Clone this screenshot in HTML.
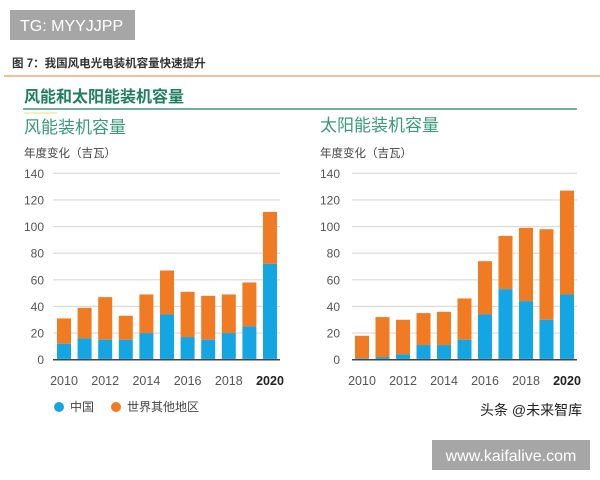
<!DOCTYPE html>
<html><head><meta charset="utf-8"><style>
body{margin:0;background:#fff;}
svg{display:block;font-family:"Liberation Sans","Noto Sans CJK SC",sans-serif;}
</style></head><body>
<svg width="600" height="480" viewBox="0 0 600 480" xmlns="http://www.w3.org/2000/svg">
<rect x="10" y="10" width="125" height="30" fill="#a6a6a6"/>
<text x="20" y="31" font-size="16" fill="#fff">TG: MYYJJPP</text>
<text x="12" y="67" font-size="11.5" font-weight="bold" fill="#333">图 7：我国风电光电装机容量快速提升</text>
<line x1="4" y1="76" x2="600" y2="76" stroke="#e89a5a" stroke-width="1.2"/>
<text x="24" y="102" font-size="16" font-weight="bold" fill="#1d7f5c">风能和太阳能装机容量</text>
<line x1="23" y1="109" x2="577" y2="109" stroke="#1d7f5c" stroke-width="1.3"/>
<line x1="24" y1="113" x2="57" y2="113" stroke="#e6e67a" stroke-width="1"/>
<text x="24" y="133" font-size="17" fill="#3a9a78">风能装机容量</text>
<text x="320" y="131" font-size="17" fill="#3a9a78">太阳能装机容量</text>
<text x="24" y="157" font-size="11.5" fill="#444">年度变化（吉瓦）</text>
<text x="320" y="157" font-size="11.5" fill="#444">年度变化（吉瓦）</text>
<g id="charts" font-size="12" fill="#555"></g>
<g font-size="12" fill="#444">
<circle cx="59" cy="407" r="5" fill="#14a6e2"/><text x="70" y="411">中国</text>
<circle cx="116" cy="407" r="5" fill="#f07b22"/><text x="127" y="411">世界其他地区</text>
</g>
<text x="480" y="415" font-size="14" fill="#222">头条 @未来智库</text>
<rect x="432" y="440" width="158" height="30" fill="#a6a6a6"/>
<text x="511" y="461" font-size="16" fill="#fff" text-anchor="middle">www.kaifalive.com</text>
</svg>
<script>
(function(){
var ns="http://www.w3.org/2000/svg",g=document.getElementById('charts');
function el(t,a,txt){var e=document.createElementNS(ns,t);for(var k in a)e.setAttribute(k,a[k]);if(txt)e.textContent=txt;g.appendChild(e);return e;}
var y0=359.7,s=186.4/140;
function chart(ox,gx1,gx2,lx,bx,sp,cn,tot){
 for(var v=0;v<=140;v+=20){var y=y0-v*s;
  el('line',{x1:gx1,x2:gx2,y1:y,y2:y,stroke:v?'#d9d9d9':'#444','stroke-width':v?1.2:1.5});
  el('text',{x:lx,y:y+4.5,'text-anchor':'end'},String(v));}
 for(var i=0;i<11;i++){var x=bx+i*sp;
  el('rect',{x:x,y:y0-tot[i]*s,width:14,height:(tot[i]-cn[i])*s,fill:'#f07b22'});
  el('rect',{x:x,y:y0-cn[i]*s,width:14,height:cn[i]*s-0.8,fill:'#14a6e2'});
  if(i%2==0){var t=el('text',{x:x+7,y:385,'text-anchor':'middle','font-size':12.5},String(2010+i));if(i==10){t.setAttribute('font-weight','bold');t.setAttribute('fill','#222');}}
 }
}
chart(0,53,280,44,57,20.6,[12,16,15,15,20,34,17,15,20,25,72],[31,39,47,33,49,67,51,48,49,58,111]);
chart(300,352,577,340,355,20.5,[1,2,4,11,11,15,34,53,44,30,49],[18,32,30,35,36,46,74,93,99,98,127]);
})();
</script>
</body></html>
